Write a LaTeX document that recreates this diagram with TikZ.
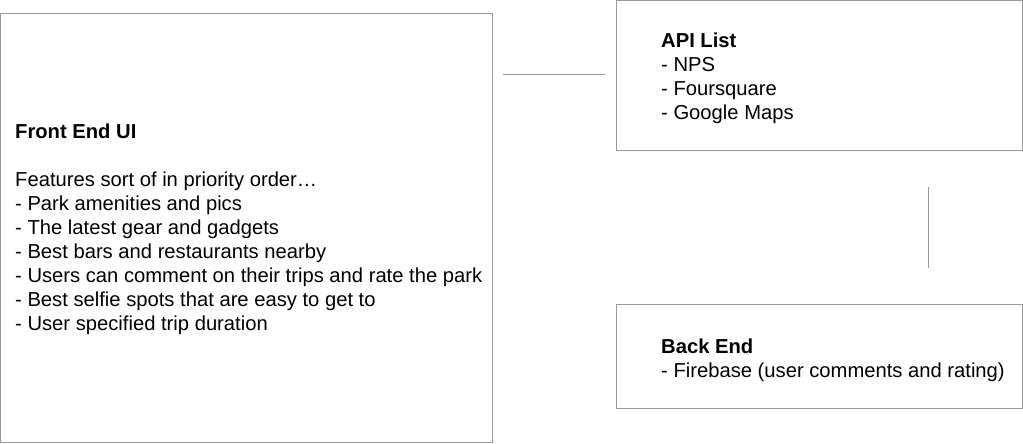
\documentclass[tikz,border=0pt]{standalone}
\usepackage{fontspec}
\setmainfont{Liberation Sans}
\begin{document}
\begin{tikzpicture}[x=1pt,y=-1pt,
  box/.style={draw=linegray, line width=1pt, rectangle, inner sep=0pt},
  conn/.style={draw=linegray, line width=1pt},
  txt/.style={anchor=base west, align=left, inner sep=0pt, font=\fontsize{20.2}{24}\selectfont}]
\definecolor{linegray}{HTML}{999999}
\useasboundingbox (0,0) rectangle (1023,444);
% boxes
\node[box, minimum width=492pt, minimum height=429pt] (front) at (246.5,228) {};
\node[box, minimum width=406pt, minimum height=150pt] (api) at (819.5,75.5) {};
\node[box, minimum width=406pt, minimum height=104pt] (back) at (819.5,356.5) {};
% texts (anchored at the baseline of the last line)
\node[txt] (fronttxt) at (15,330) {\textbf{Front End UI}\\[24pt]Features sort of in priority order\dots\\- Park amenities and pics\\- The latest gear and gadgets\\- Best bars and restaurants nearby\\- Users can comment on their trips and rate the park\\- Best selfie spots that are easy to get to\\- User specified trip duration};
\node[txt] (apitxt) at (661,119) {\textbf{API List}\\- NPS\\- Foursquare\\- Google Maps};
\node[txt] (backtxt) at (661,377) {\textbf{Back End}\\- Firebase (user comments and rating)};
% connectors
\coordinate (h1) at (503,75);
\coordinate (h2) at (605,75);
\coordinate (v1) at (928,187);
\coordinate (v2) at (928,268);
\draw[conn] (h1) -- (h2);
\draw[conn] (v1) -- (v2);
\end{tikzpicture}
\end{document}
